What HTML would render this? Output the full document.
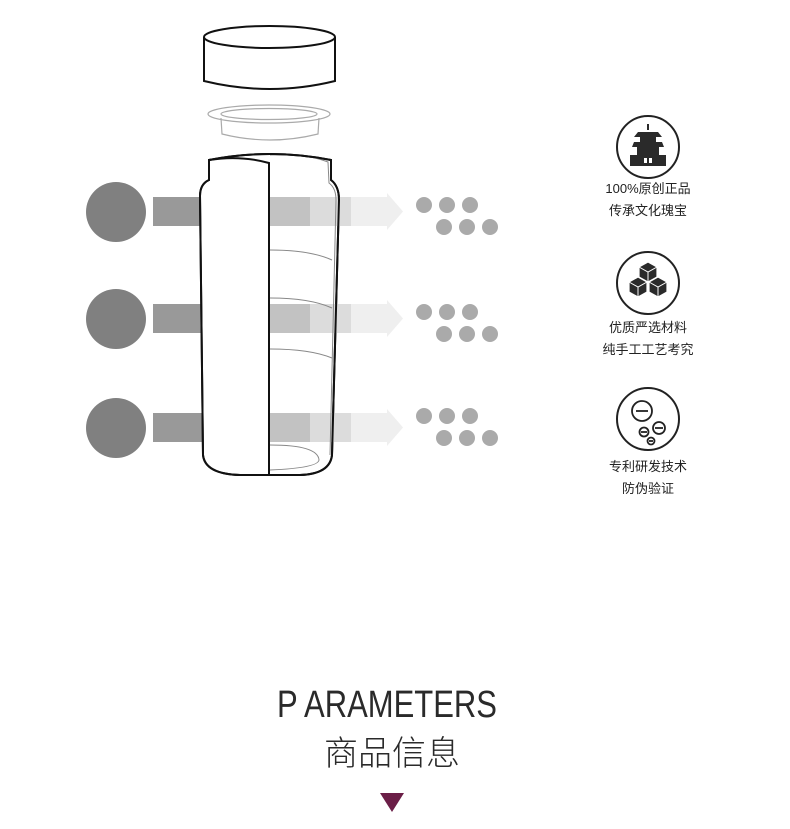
<!DOCTYPE html>
<html><head><meta charset="utf-8"><style>
html,body{margin:0;padding:0;background:#fff;}
svg{display:block;}
</style></head><body>
<svg width="790" height="829" viewBox="0 0 790 829" xmlns="http://www.w3.org/2000/svg">
<!-- left circles -->
<g fill="#808080">
<circle cx="116" cy="212" r="30"/><circle cx="116" cy="319" r="30"/><circle cx="116" cy="428" r="30"/>
</g>
<!-- bars -->
<g>
<rect x="153" y="197" width="50" height="29" fill="#999"/>
<rect x="153" y="304" width="50" height="29" fill="#999"/>
<rect x="153" y="413" width="50" height="29" fill="#999"/>
</g>
<!-- lid -->
<g fill="#fff" stroke="#111" stroke-width="2">
<path d="M204 37 L204 81 Q270 97 335 81 L335 37"/>
<ellipse cx="269.5" cy="37" rx="65.5" ry="11"/>
</g>
<!-- gasket -->
<g fill="none" stroke="#aaa" stroke-width="1.2">
<path d="M221 118 L222 134 Q270 146 318 134 L319 118"/>
<ellipse cx="269" cy="114" rx="61" ry="9"/>
<ellipse cx="269" cy="114" rx="48" ry="5.5"/>
</g>
<!-- body -->
<path d="M209 160 L209 180 Q200 184 200 196 L203 455 Q205 474 240 475 L300 475 Q330 474 332 455 L339 200 Q339 186 331 180 L331 160 Q270 148 209 160 Z" fill="#fff" stroke="#111" stroke-width="2"/>
<!-- right bars through body -->
<g>
<rect x="270" y="197" width="40" height="29" fill="#c2c2c2"/>
<rect x="310" y="197" width="41" height="29" fill="#dcdcdc"/>
<path d="M351 197 L387 197 L387 193 L403 211.5 L387 230 L387 226 L351 226Z" fill="#efefef"/>
<rect x="270" y="304" width="40" height="29" fill="#c2c2c2"/>
<rect x="310" y="304" width="41" height="29" fill="#dcdcdc"/>
<path d="M351 304 L387 304 L387 300 L403 318.5 L387 337 L387 333 L351 333Z" fill="#efefef"/>
<rect x="270" y="413" width="40" height="29" fill="#c2c2c2"/>
<rect x="310" y="413" width="41" height="29" fill="#dcdcdc"/>
<path d="M351 413 L387 413 L387 409 L403 427.5 L387 446 L387 442 L351 442Z" fill="#efefef"/>
</g>
<!-- inner lines -->
<g fill="none" stroke="#888" stroke-width="1">
<path d="M270 250 Q310 250 332 260"/>
<path d="M270 298 Q310 298 332 308"/>
<path d="M270 349 Q310 349 332 358"/>
<path d="M270 155 Q300 152 328 162 L329 183 Q336 188 336 200 L330 455"/>
<path d="M270 445 Q318 445 319 460 Q318 468 270 470"/>
</g>
<path d="M209 160 Q240 155 269 163 L269 475" fill="none" stroke="#111" stroke-width="2"/>
<path d="M209 160 L209 180 Q200 184 200 196 L203 455 Q205 474 240 475 L300 475 Q330 474 332 455 L339 200 Q339 186 331 180 L331 160 Q270 148 209 160 Z" fill="none" stroke="#111" stroke-width="2"/>
<!-- dots -->
<g fill="#aaa">
<circle cx="424" cy="205" r="8"/><circle cx="447" cy="205" r="8"/><circle cx="470" cy="205" r="8"/>
<circle cx="444" cy="227" r="8"/><circle cx="467" cy="227" r="8"/><circle cx="490" cy="227" r="8"/>
<circle cx="424" cy="312" r="8"/><circle cx="447" cy="312" r="8"/><circle cx="470" cy="312" r="8"/>
<circle cx="444" cy="334" r="8"/><circle cx="467" cy="334" r="8"/><circle cx="490" cy="334" r="8"/>
<circle cx="424" cy="416" r="8"/><circle cx="447" cy="416" r="8"/><circle cx="470" cy="416" r="8"/>
<circle cx="444" cy="438" r="8"/><circle cx="467" cy="438" r="8"/><circle cx="490" cy="438" r="8"/>
</g>
<!-- icons -->
<g fill="none" stroke="#222" stroke-width="2">
<circle cx="648" cy="147" r="31"/>
<circle cx="648" cy="283" r="31"/>
<circle cx="648" cy="419" r="31"/>
</g>
<!-- temple -->
<g fill="#2a2a2a">
<rect x="647" y="124" width="2" height="6"/>
<path d="M638 132 L658 132 L662 137 L634 137Z"/>
<rect x="640" y="137" width="16" height="5"/>
<path d="M634 142 L662 142 L664 147 L632 147Z"/>
<rect x="637" y="147" width="22" height="8"/>
<path d="M630 155 L666 155 L666 166 L630 166Z"/>
<rect x="644" y="158" width="3" height="5" fill="#fff"/><rect x="649" y="158" width="3" height="5" fill="#fff"/>
</g>
<!-- cubes -->
<g fill="#2a2a2a" stroke="#fff" stroke-width="1.2">
<path d="M648 262 L657 267 L657 277 L648 282 L639 277 L639 267Z"/>
<path d="M638 277 L647 282 L647 292 L638 297 L629 292 L629 282Z"/>
<path d="M658 277 L667 282 L667 292 L658 297 L649 292 L649 282Z"/>
</g>
<g fill="none" stroke="#fff" stroke-width="1"><path d="M639 267 L648 272 L657 267 M648 272 L648 282 M629 282 L638 287 L647 282 M638 287 L638 297 M649 282 L658 287 L667 282 M658 287 L658 297"/></g>
<!-- coins -->
<g fill="none" stroke="#222" stroke-width="1.8">
<circle cx="642" cy="411" r="10"/><path d="M636 411 L648 411"/>
<circle cx="659" cy="428" r="6"/><path d="M655 428 L663 428"/>
<circle cx="644" cy="432" r="4.5"/><path d="M641 432 L647 432"/>
<circle cx="651" cy="441" r="3.5"/><path d="M649 441 L653 441"/>
</g>
<g font-family="'Liberation Sans','Noto Sans CJK SC',sans-serif" font-size="13" fill="#222" text-anchor="middle">
<text x="648" y="193">100%原创正品</text>
<text x="648" y="215">传承文化瑰宝</text>
<text x="648" y="332">优质严选材料</text>
<text x="648" y="354">纯手工工艺考究</text>
<text x="648" y="471">专利研发技术</text>
<text x="648" y="493">防伪验证</text>
</g>
<text x="277" y="717" font-family="'Liberation Sans',sans-serif" font-size="38" fill="#2a2a2a" textLength="220" lengthAdjust="spacingAndGlyphs">P ARAMETERS</text>
<text x="392" y="765" font-family="'Liberation Sans','Noto Sans CJK SC',sans-serif" font-weight="300" font-size="34" fill="#2a2a2a" text-anchor="middle">商品信息</text>
<path d="M380 793 L404 793 L392 812Z" fill="#6b1e47"/>
</svg>
</body></html>
